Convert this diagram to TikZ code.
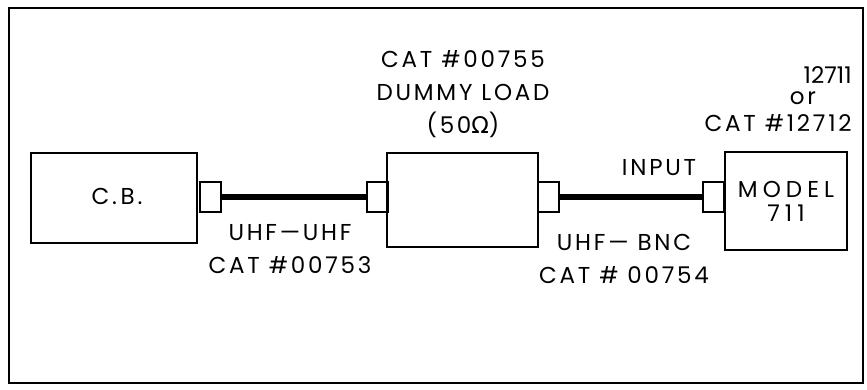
\documentclass[tikz,border=0pt]{standalone}
\usepackage{fontspec}
\setmainfont{Poppins}[LetterSpace=12]
\newfontfamily\omegafont{DejaVu Sans}
\usetikzlibrary{positioning}

\begin{document}
\begin{tikzpicture}[
    x=0.5pt, y=-0.5pt,
    font=\fontsize{11.5}{16.5}\selectfont,
    unitbox/.style={draw, rectangle, line width=1.2pt, inner sep=0pt, align=center},
    plugbox/.style={draw, rectangle, line width=1pt, inner sep=0pt, minimum width=10.5pt, minimum height=15pt},
    cable/.style={line width=2.8pt},
    lbl/.style={inner sep=0pt, align=center}
  ]

  \useasboundingbox (0,0) rectangle (867,390);
  \draw[line width=1.1pt] (9,8) rectangle (863,383);

  % units
  \node (cb) [unitbox, minimum width=83pt, minimum height=45pt] at (114,198) {};
  \node (cblbl) [lbl] at (117,196) {C.\,B.};
  \node (load) [unitbox, minimum width=75.5pt, minimum height=47pt] at (462.5,200) {};
  \node (meter) [unitbox, minimum width=61pt, minimum height=49pt, font=\fontsize{11.5}{12}\selectfont\addfontfeature{LetterSpace=22}] at (786,201) {MODEL\\711};

  % plugs
  \node (cbplug) [plugbox] at (210,197) {};
  \node (loadin) [plugbox] at (377.5,197) {};
  \node (loadout) [plugbox] at (548.5,197) {};
  \node (meterin) [plugbox] at (713.5,197) {};

  % cables
  \draw[cable] (cbplug) -- (loadin);
  \draw[cable] (loadout) -- (meterin);

  % labels
  \node (loadlbl) [lbl] at (463,94) {CAT \#00755\\DUMMY LOAD\\(50{\omegafont Ω})};
  \node (cat1) [lbl, anchor=east, font=\fontsize{11.5}{12}\selectfont\addfontfeature{LetterSpace=0}] at (852,75) {12711};
  \node (cator) [lbl] at (803,98) {or};
  \node (cat2) [lbl, anchor=east] at (852,123) {CAT \#12712};
  \node (inlbl) [lbl] at (659,168) {INPUT};
  \node (cable1lbl) [lbl] at (290,249) {UHF---UHF\\CAT \#00753};
  \node (cable2lbl) [lbl] at (624,259) {UHF--- BNC\\CAT \# 00754};

\end{tikzpicture}
\end{document}
